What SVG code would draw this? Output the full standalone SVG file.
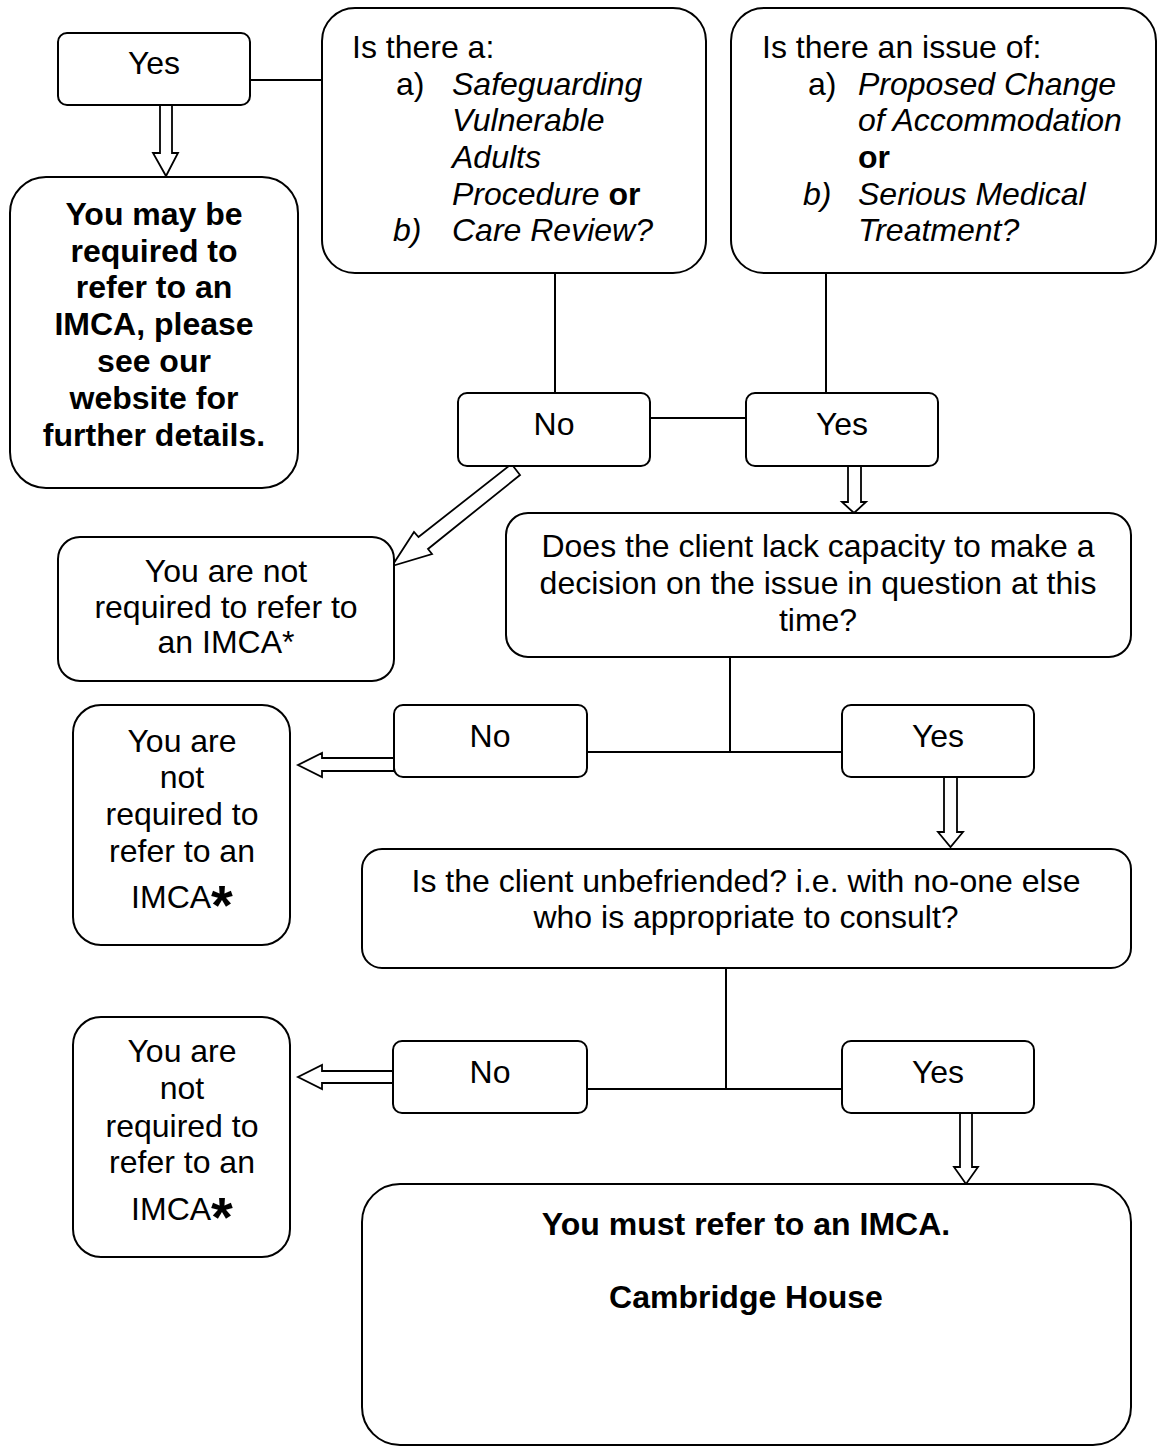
<svg xmlns="http://www.w3.org/2000/svg" width="1158" height="1447" viewBox="0 0 1158 1447">
<style>
.box{fill:#fff;stroke:#000;stroke-width:2}
.ln{fill:none;stroke:#000;stroke-width:2}
.ar{fill:#fff;stroke:#000;stroke-width:1.8;stroke-linejoin:miter}
text{font-family:"Liberation Sans",Arial,Helvetica,sans-serif;font-size:32px;fill:#000}
.c{text-anchor:middle}
.b{font-weight:bold}
.i{font-style:italic}
.ast{font-weight:bold;font-size:56px}
</style>
<rect width="1158" height="1447" fill="#fff"/>

<g id="connectors">
  <line class="ln" x1="250" y1="80" x2="322" y2="80"/>
  <line class="ln" x1="555" y1="273" x2="555" y2="393"/>
  <line class="ln" x1="826" y1="273" x2="826" y2="393"/>
  <line class="ln" x1="650" y1="418" x2="746" y2="418"/>
  <line class="ln" x1="730" y1="657" x2="730" y2="752"/>
  <line class="ln" x1="587" y1="752" x2="842" y2="752"/>
  <line class="ln" x1="726" y1="968" x2="726" y2="1089"/>
  <line class="ln" x1="587" y1="1089" x2="842" y2="1089"/>
  <polygon class="ar" points="160,105 160,153 153,153 166,176 178,153 172,153 172,105"/>
  <polygon class="ar" points="511.5,464 418.5,537 414,532 392,566 432,554 428,549 520,475"/>
  <polygon class="ar" points="848,466 848,502 842,502 854,513 866,502 861,502 861,466"/>
  <polygon class="ar" points="394,758 322,758 322,753 298,765 322,777 322,771 394,771"/>
  <polygon class="ar" points="944,777 944,832 938,832 950.5,847 963,832 957,832 957,777"/>
  <polygon class="ar" points="393,1071 322,1071 322,1065 298,1077 322,1089 322,1083 393,1083"/>
  <polygon class="ar" points="960,1113 960,1167 954,1167 966,1184 978,1167 972,1167 972,1113"/>
</g>

<g id="yes1">
  <rect class="box" x="58" y="33" width="192" height="72" rx="9"/>
  <text class="c" x="154" y="74">Yes</text>
</g>

<g id="may-refer">
  <rect class="box" x="10" y="177" width="288" height="311" rx="36"/>
  <text class="c b" x="154" y="225">You may be</text>
  <text class="c b" x="154" y="262">required to</text>
  <text class="c b" x="154" y="298">refer to an</text>
  <text class="c b" x="154" y="335">IMCA, please</text>
  <text class="c b" x="154" y="372">see our</text>
  <text class="c b" x="154" y="409">website for</text>
  <text class="c b" x="154" y="446">further details.</text>
</g>

<g id="q-safeguarding">
  <rect class="box" x="322" y="8" width="384" height="265" rx="33"/>
  <text x="352" y="58">Is there a:</text>
  <text x="396" y="95">a)</text>
  <text class="i" x="452" y="95">Safeguarding</text>
  <text class="i" x="452" y="131">Vulnerable</text>
  <text class="i" x="452" y="168">Adults</text>
  <text x="452" y="205"><tspan class="i">Procedure</tspan><tspan class="b"> or</tspan></text>
  <text class="i" x="393" y="241">b)</text>
  <text class="i" x="452" y="241">Care Review?</text>
</g>

<g id="q-issue">
  <rect class="box" x="731" y="8" width="425" height="265" rx="33"/>
  <text x="762" y="58">Is there an issue of:</text>
  <text x="808" y="95">a)</text>
  <text class="i" x="858" y="95">Proposed Change</text>
  <text class="i" x="858" y="131">of Accommodation</text>
  <text class="b" x="858" y="168">or</text>
  <text class="i" x="803" y="205">b)</text>
  <text class="i" x="858" y="205">Serious Medical</text>
  <text class="i" x="858" y="241">Treatment?</text>
</g>

<g id="no1">
  <rect class="box" x="458" y="393" width="192" height="73" rx="9"/>
  <text class="c" x="554" y="435">No</text>
</g>

<g id="yes2">
  <rect class="box" x="746" y="393" width="192" height="73" rx="9"/>
  <text class="c" x="842" y="435">Yes</text>
</g>

<g id="not-required1">
  <rect class="box" x="58" y="537" width="336" height="144" rx="22"/>
  <text class="c" x="226" y="582">You are not</text>
  <text class="c" x="226" y="618">required to refer to</text>
  <text class="c" x="226" y="653">an IMCA*</text>
</g>

<g id="q-capacity">
  <rect class="box" x="506" y="513" width="625" height="144" rx="22"/>
  <text class="c" x="818" y="557">Does the client lack capacity to make a</text>
  <text class="c" x="818" y="594">decision on the issue in question at this</text>
  <text class="c" x="818" y="631">time?</text>
</g>

<g id="no2">
  <rect class="box" x="394" y="705" width="193" height="72" rx="9"/>
  <text class="c" x="490" y="747">No</text>
</g>

<g id="yes3">
  <rect class="box" x="842" y="705" width="192" height="72" rx="9"/>
  <text class="c" x="938" y="747">Yes</text>
</g>

<g id="not-required2">
  <rect class="box" x="73" y="705" width="217" height="240" rx="28"/>
  <text class="c" x="182" y="752">You are</text>
  <text class="c" x="182" y="788">not</text>
  <text class="c" x="182" y="825">required to</text>
  <text class="c" x="182" y="862">refer to an</text>
  <text class="c" x="182" y="908">IMCA<tspan class="ast" dy="16">*</tspan></text>
</g>

<g id="q-unbefriended">
  <rect class="box" x="362" y="849" width="769" height="119" rx="20"/>
  <text class="c" x="746" y="892">Is the client unbefriended? i.e. with no-one else</text>
  <text class="c" x="746" y="928">who is appropriate to consult?</text>
</g>

<g id="no3">
  <rect class="box" x="393" y="1041" width="194" height="72" rx="9"/>
  <text class="c" x="490" y="1083">No</text>
</g>

<g id="yes4">
  <rect class="box" x="842" y="1041" width="192" height="72" rx="9"/>
  <text class="c" x="938" y="1083">Yes</text>
</g>

<g id="not-required3">
  <rect class="box" x="73" y="1017" width="217" height="240" rx="28"/>
  <text class="c" x="182" y="1062">You are</text>
  <text class="c" x="182" y="1099">not</text>
  <text class="c" x="182" y="1137">required to</text>
  <text class="c" x="182" y="1173">refer to an</text>
  <text class="c" x="182" y="1220">IMCA<tspan class="ast" dy="16">*</tspan></text>
</g>

<g id="must-refer">
  <rect class="box" x="362" y="1184" width="769" height="261" rx="38"/>
  <text class="c b" x="746" y="1235">You must refer to an IMCA.</text>
  <text class="c b" x="746" y="1308">Cambridge House</text>
</g>
</svg>
